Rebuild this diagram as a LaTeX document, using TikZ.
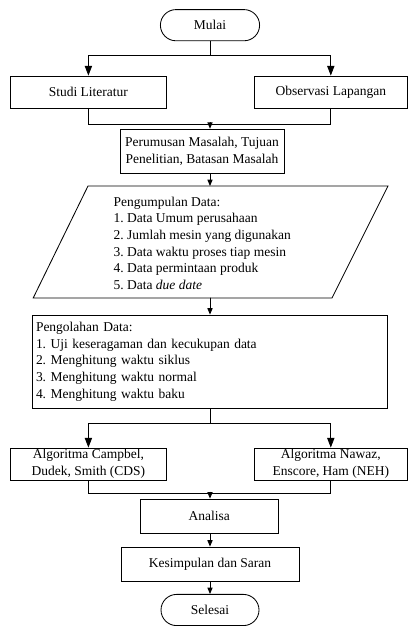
\documentclass[tikz,border=0pt]{standalone}
\usepackage{fontspec}
\setmainfont{Liberation Serif}
\usetikzlibrary{arrows.meta}
\frenchspacing

\begin{document}
\begin{tikzpicture}[line width=0.6pt, line cap=round,
  every node/.style={font=\fontsize{9.6}{11.8}\selectfont},
  box/.style={draw, align=center, inner sep=1pt},
  term/.style={draw, rounded corners=0.39cm, inner sep=1pt, minimum height=0.78cm},
  arr/.style={-{Triangle[length=1.6mm, width=1.3mm]}},
  bigarr/.style={-{Triangle[length=2.4mm, width=1.8mm]}}]
  \useasboundingbox (0,0) rectangle (10.2,-15.65);

  \node[term, minimum width=2.48cm] (mulai) at (5.25,-0.63) {Mulai};
  \node[box, minimum width=3.92cm, minimum height=0.80cm] (studi) at (2.21,-2.30) {Studi Literatur};
  \node[box, minimum width=3.83cm, minimum height=0.80cm] (obs) at (8.27,-2.30) {Observasi Lapangan};
  \node[box, minimum width=4.10cm, minimum height=1.10cm] (rumus) at (5.05,-3.78)
    {Perumusan Masalah, Tujuan\\Penelitian, Batasan Masalah};

  \coordinate (kumpulA) at (2.20,-4.65);
  \coordinate (kumpulB) at (9.70,-4.65);
  \coordinate (kumpulC) at (8.30,-7.45);
  \coordinate (kumpulD) at (0.83,-7.45);
  \coordinate (kumpulin) at (5.25,-4.65);
  \coordinate (kumpulout) at (5.25,-7.45);
  \draw (kumpulA) -- (kumpulB) -- (kumpulC) -- (kumpulD) -- cycle;
  \node[align=left, anchor=west, inner sep=0pt] (kumpul) at (2.83,-6.08)
    {Pengumpulan Data:\\1. Data Umum perusahaan\\2. Jumlah mesin yang digunakan\\3. Data waktu proses tiap mesin\\4. Data permintaan produk\\5. Data \textit{due date}};

  \node[box, minimum width=8.88cm, minimum height=2.33cm, text width=8.70cm, align=left, inner xsep=0.08cm] (olah) at (5.25,-9.04)
    {Pengolahan Data:\\1. Uji keseragaman dan kecukupan data\\2. Menghitung waktu siklus\\3. Menghitung waktu normal\\4. Menghitung waktu baku};

  \node[box, minimum width=3.90cm, minimum height=0.80cm] (cds) at (2.21,-11.60) {Algoritma Campbel,\\Dudek, Smith (CDS)};
  \node[box, minimum width=3.83cm, minimum height=0.80cm] (neh) at (8.27,-11.60) {Algoritma Nawaz,\\Enscore, Ham (NEH)};
  \node[box, minimum width=3.45cm, minimum height=0.85cm] (analisa) at (5.23,-12.90) {Analisa};
  \node[box, minimum width=4.45cm, minimum height=0.85cm] (simpul) at (5.25,-14.10) {Kesimpulan dan Saran};
  \node[term, minimum width=2.45cm] (selesai) at (5.25,-15.25) {Selesai};

  \coordinate (j1) at (5.25,-1.375);
  \coordinate (j2) at (5.25,-3.10);
  \coordinate (j3) at (5.25,-10.575);
  \coordinate (j4) at (5.25,-12.325);

  \draw (mulai.south) -- (j1);
  \draw[bigarr] (j1) -| (studi.north);
  \draw[bigarr] (j1) -| (obs.north);
  \draw (studi.south) |- (j2);
  \draw (obs.south) |- (j2);
  \draw[arr] (j2) -- (j2 |- rumus.north);
  \draw[arr] (rumus.south -| kumpulin) -- (kumpulin);
  \draw[arr] (kumpulout) -- (olah.north);
  \draw (olah.south) -- (j3);
  \draw[bigarr] (j3) -| (cds.north);
  \draw[bigarr] (j3) -| (neh.north);
  \draw (cds.south) |- (j4);
  \draw (neh.south) |- (j4);
  \draw[arr] (j4) -- (j4 |- analisa.north);
  \draw[arr] (analisa.south -| j4) -- (simpul.north);
  \draw[arr] (simpul.south) -- (selesai.north);
\end{tikzpicture}
\end{document}
